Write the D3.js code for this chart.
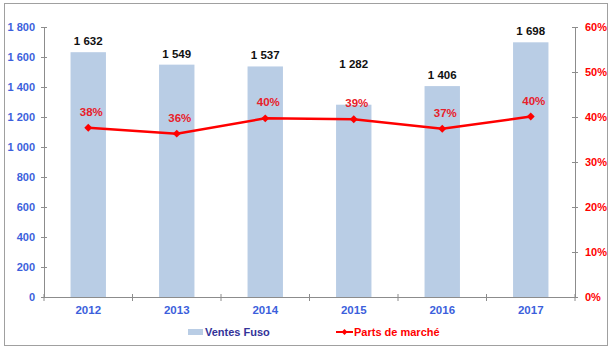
<!DOCTYPE html>
<html><head><meta charset="utf-8">
<script src="https://cdn.jsdelivr.net/npm/d3@7"></script>
<style>body{margin:0;background:#fff}svg{display:block}text{font-family:"Liberation Sans",Arial,sans-serif;font-weight:bold}</style>
</head><body>
<svg id="c" width="614" height="351"></svg>
<script>
const years = ["2012","2013","2014","2015","2016","2017"];
const ventes = [1632,1549,1537,1282,1406,1698];
const parts = [0.376,0.363,0.397,0.395,0.374,0.401];
const partsLabels = ["38%","36%","40%","39%","37%","40%"];
const leftTicks = [0,200,400,600,800,1000,1200,1400,1600,1800];
const rightTicks = [0,0.1,0.2,0.3,0.4,0.5,0.6];
const seriesNames = ["Ventes Fuso","Parts de marché"];

const svg = d3.select("#c");
const m = {l:44, r:575, t:27, b:297};
const blue = "#3c5fdc", red = "#ff0000", barCol = "#b9cde5", axisCol = "#8c8c8c";

svg.append("rect").attr("x",4.5).attr("y",3.5).attr("width",603).attr("height",342)
  .attr("fill","#fff").attr("stroke","#a0a0a0").attr("stroke-width",1);

const x = d3.scaleBand().domain(years).range([m.l,m.r]);
const y = d3.scaleLinear().domain([0,1800]).range([m.b,m.t]);
const y2 = d3.scaleLinear().domain([0,0.6]).range([m.b,m.t]);
const fmt = v => d3.format(",")(v).replace(/,/g," ");

// bars
svg.append("g").selectAll("rect").data(years).join("rect")
  .attr("x",d=>x(d)+x.bandwidth()*0.3).attr("width",x.bandwidth()*0.4)
  .attr("y",(d,i)=>y(ventes[i])).attr("height",(d,i)=>m.b-y(ventes[i]))
  .attr("fill",barCol);

// left axis
const la = svg.append("g").attr("transform",`translate(${m.l},0)`)
  .call(d3.axisLeft(y).tickValues(leftTicks).tickFormat(fmt).tickSizeInner(3).tickSizeOuter(0).tickPadding(6));
la.selectAll(".tick line").attr("x2",3).attr("x1",-3);
// right axis
const ra = svg.append("g").attr("transform",`translate(${m.r},0)`)
  .call(d3.axisRight(y2).tickValues(rightTicks).tickFormat(d3.format(".0%")).tickSizeInner(3).tickSizeOuter(0).tickPadding(7));
ra.selectAll(".tick line").attr("x2",3).attr("x1",-3);
// bottom axis
const ba = svg.append("g").attr("transform",`translate(0,${m.b})`)
  .call(d3.axisBottom(x).tickSize(0).tickPadding(9));
ba.selectAll(".tick line").remove();
ba.append("g").selectAll("line").data(d3.range(years.length+1)).join("line")
  .attr("x1",i=>m.l+i*x.step()).attr("x2",i=>m.l+i*x.step()).attr("y1",-3).attr("y2",4)
  .attr("stroke",axisCol);

[la,ra,ba].forEach(g=>{
  g.select(".domain").attr("stroke",axisCol);
  g.selectAll(".tick line").attr("stroke",axisCol);
  g.selectAll("text").attr("font-size",11).attr("font-family","'Liberation Sans',Arial,sans-serif").attr("font-weight","bold");
});
la.selectAll("text").attr("fill",blue);
ba.selectAll("text").attr("fill",blue).attr("font-size",11.5);
ra.selectAll("text").attr("fill",red);

// value labels
svg.append("g").selectAll("text").data(years).join("text")
  .attr("x",d=>x(d)+x.bandwidth()/2)
  .attr("y",(d,i)=>y(ventes[i]) - (d==="2015" ? 37 : 7))
  .attr("text-anchor","middle").attr("font-size",11.5).attr("fill","#111")
  .text((d,i)=>fmt(ventes[i]));

// line
const cx = d=>x(d)+x.bandwidth()/2;
svg.append("path").datum(years)
  .attr("d",d3.line().x(cx).y((d,i)=>y2(parts[i])))
  .attr("fill","none").attr("stroke",red).attr("stroke-width",2.5);
svg.append("g").selectAll("path").data(years).join("path")
  .attr("transform",(d,i)=>`translate(${cx(d)},${y2(parts[i])})`)
  .attr("d",d3.symbol(d3.symbolDiamond2,40)).attr("fill",red);
svg.append("g").selectAll("text").data(years).join("text")
  .attr("x",d=>cx(d)+3).attr("y",(d,i)=>y2(parts[i])-12)
  .attr("text-anchor","middle").attr("font-size",11.5).attr("fill","#e8202a")
  .text((d,i)=>partsLabels[i]);

// legend
const lg = svg.append("g");
lg.append("rect").attr("x",188).attr("y",329).attr("width",15).attr("height",6).attr("fill",barCol);
lg.append("text").attr("x",205).attr("y",336).attr("font-size",11).attr("fill","#333399").text(seriesNames[0]);
lg.append("line").attr("x1",336).attr("x2",353).attr("y1",332).attr("y2",332).attr("stroke",red).attr("stroke-width",2);
lg.append("path").attr("transform","translate(344.5,332)").attr("d",d3.symbol(d3.symbolDiamond2,22)).attr("fill",red);
lg.append("text").attr("x",354).attr("y",336).attr("font-size",11).attr("fill",red).text(seriesNames[1]);
</script>
</body></html>
